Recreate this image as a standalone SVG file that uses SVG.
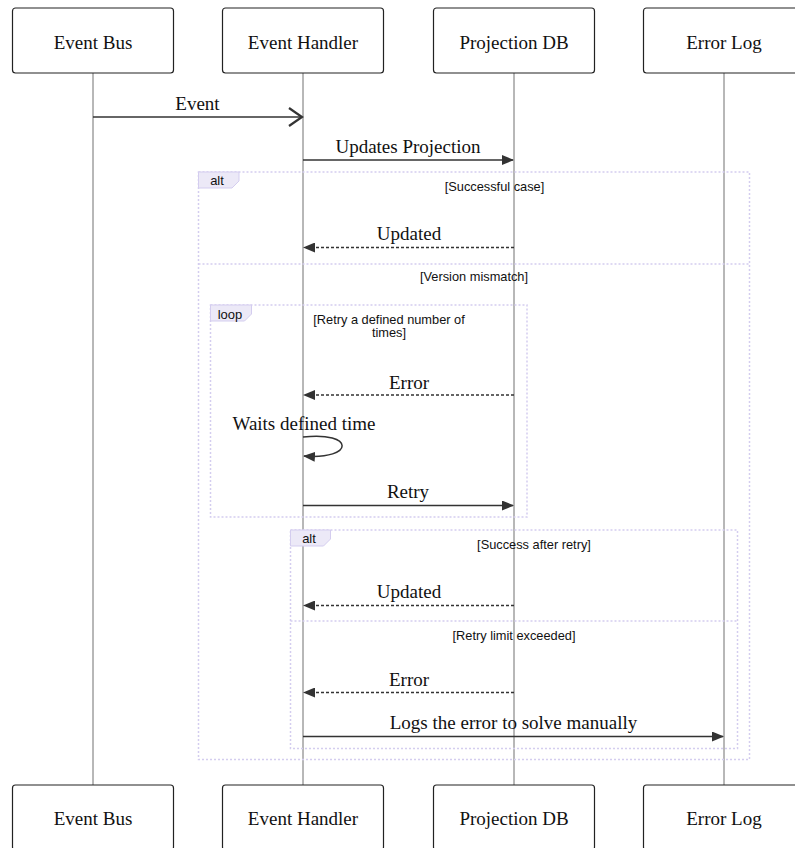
<svg xmlns="http://www.w3.org/2000/svg" width="795" height="848" viewBox="0 0 795 848">
  <style>
    .actor rect { fill: #ffffff; stroke: #222222; stroke-width: 1.2; }
    .actor text { font-family: "Liberation Serif", "Times New Roman", serif; font-size: 19px; fill: #111111; text-anchor: middle; }
    .lifeline { stroke: #707070; stroke-width: 1; }
    .msg { stroke: #333333; stroke-width: 1.5; fill: none; }
    .dash { stroke: #333333; stroke-width: 1.5; stroke-dasharray: 3,2; fill: none; }
    .msgText { font-family: "Liberation Serif", "Times New Roman", serif; font-size: 19px; fill: #111111; text-anchor: middle; }
    .frame { stroke: #d4cdef; stroke-width: 1.5; stroke-dasharray: 2,2; fill: none; }
    .labelBox { fill: #ece9f7; stroke: #d4cdef; stroke-width: 1; }
    .labelText { font-family: "Liberation Sans", Arial, sans-serif; font-size: 13px; fill: #111111; text-anchor: middle; }
    .condText { font-family: "Liberation Sans", Arial, sans-serif; font-size: 12.8px; fill: #111111; text-anchor: middle; }
  </style>
  <defs>
    <marker id="filled" markerWidth="12" markerHeight="10" refX="11" refY="5" orient="auto" markerUnits="userSpaceOnUse">
      <path d="M0,0 L12,5 L0,10 z" fill="#333333"/>
    </marker>
    <marker id="chevron" markerWidth="16" markerHeight="20" refX="14" refY="10" orient="auto" markerUnits="userSpaceOnUse">
      <path d="M1,1 L14,10 L1,19" fill="none" stroke="#333333" stroke-width="2.2"/>
    </marker>
  </defs>

  <!-- lifelines -->
  <g id="lifelines">
    <line class="lifeline" x1="93" y1="73" x2="93" y2="785"/>
    <line class="lifeline" x1="303" y1="73" x2="303" y2="785"/>
    <line class="lifeline" x1="514" y1="73" x2="514" y2="785"/>
    <line class="lifeline" x1="724" y1="73" x2="724" y2="785"/>
  </g>

  <!-- participants, top row -->
  <g id="actor-event-bus-top" class="actor">
    <rect x="12.5" y="8" width="161" height="65" rx="3"/>
    <text x="93" y="49">Event Bus</text>
  </g>
  <g id="actor-event-handler-top" class="actor">
    <rect x="222.5" y="8" width="161" height="65" rx="3"/>
    <text x="303" y="49">Event Handler</text>
  </g>
  <g id="actor-projection-db-top" class="actor">
    <rect x="433.5" y="8" width="161" height="65" rx="3"/>
    <text x="514" y="49">Projection DB</text>
  </g>
  <g id="actor-error-log-top" class="actor">
    <rect x="643.5" y="8" width="161" height="65" rx="3"/>
    <text x="724" y="49">Error Log</text>
  </g>

  <!-- participants, bottom row -->
  <g id="actor-event-bus-bottom" class="actor">
    <rect x="12.5" y="785" width="161" height="65" rx="3"/>
    <text x="93" y="825">Event Bus</text>
  </g>
  <g id="actor-event-handler-bottom" class="actor">
    <rect x="222.5" y="785" width="161" height="65" rx="3"/>
    <text x="303" y="825">Event Handler</text>
  </g>
  <g id="actor-projection-db-bottom" class="actor">
    <rect x="433.5" y="785" width="161" height="65" rx="3"/>
    <text x="514" y="825">Projection DB</text>
  </g>
  <g id="actor-error-log-bottom" class="actor">
    <rect x="643.5" y="785" width="161" height="65" rx="3"/>
    <text x="724" y="825">Error Log</text>
  </g>

  <!-- frames -->
  <g id="frame-alt-outer">
    <rect class="frame" x="198.5" y="172" width="551" height="587.5"/>
    <line class="frame" x1="198.5" y1="264" x2="749.5" y2="264"/>
    <polygon class="labelBox" points="198.5,172 239,172 239,181 232,188 198.5,188"/>
    <text class="labelText" x="217" y="185">alt</text>
    <text class="condText" x="494.5" y="191">[Successful case]</text>
    <text class="condText" x="474" y="281">[Version mismatch]</text>
  </g>
  <g id="frame-loop">
    <rect class="frame" x="210.5" y="305" width="316.5" height="212"/>
    <polygon class="labelBox" points="210.5,305 251.5,305 251.5,314 244.5,321 210.5,321"/>
    <text class="labelText" x="230" y="318.5">loop</text>
    <text class="condText" x="389" y="323.5">[Retry a defined number of</text>
    <text class="condText" x="389" y="337">times]</text>
  </g>
  <g id="frame-alt-inner">
    <rect class="frame" x="290.5" y="530" width="447" height="218.5"/>
    <line class="frame" x1="290.5" y1="621" x2="737.5" y2="621"/>
    <polygon class="labelBox" points="290.5,530 330.5,530 330.5,539 323.5,546 290.5,546"/>
    <text class="labelText" x="309" y="543">alt</text>
    <text class="condText" x="534" y="549">[Success after retry]</text>
    <text class="condText" x="514" y="640">[Retry limit exceeded]</text>
  </g>

  <!-- messages -->
  <g id="connectors">
    <line class="msg" x1="93" y1="117" x2="302" y2="117" stroke-width="2" marker-end="url(#chevron)"/>
    <text class="msgText" x="197.5" y="110">Event</text>

    <line class="msg" x1="303" y1="160" x2="513" y2="160" marker-end="url(#filled)"/>
    <text class="msgText" x="408" y="153">Updates Projection</text>

    <line class="dash" x1="514" y1="247.5" x2="304" y2="247.5" marker-end="url(#filled)"/>
    <text class="msgText" x="409" y="240">Updated</text>

    <line class="dash" x1="514" y1="395" x2="304" y2="395" marker-end="url(#filled)"/>
    <text class="msgText" x="409" y="389">Error</text>

    <path class="msg" d="M303,437 C355,431 355,460 304,456" marker-end="url(#filled)"/>
    <text class="msgText" x="304" y="430">Waits defined time</text>

    <line class="msg" x1="303" y1="505.5" x2="513" y2="505.5" marker-end="url(#filled)"/>
    <text class="msgText" x="408" y="498">Retry</text>

    <line class="dash" x1="514" y1="605.5" x2="304" y2="605.5" marker-end="url(#filled)"/>
    <text class="msgText" x="409" y="598">Updated</text>

    <line class="dash" x1="514" y1="692.5" x2="304" y2="692.5" marker-end="url(#filled)"/>
    <text class="msgText" x="409" y="686">Error</text>

    <line class="msg" x1="303" y1="736.5" x2="723" y2="736.5" marker-end="url(#filled)"/>
    <text class="msgText" x="513.5" y="729">Logs the error to solve manually</text>
  </g>
</svg>
